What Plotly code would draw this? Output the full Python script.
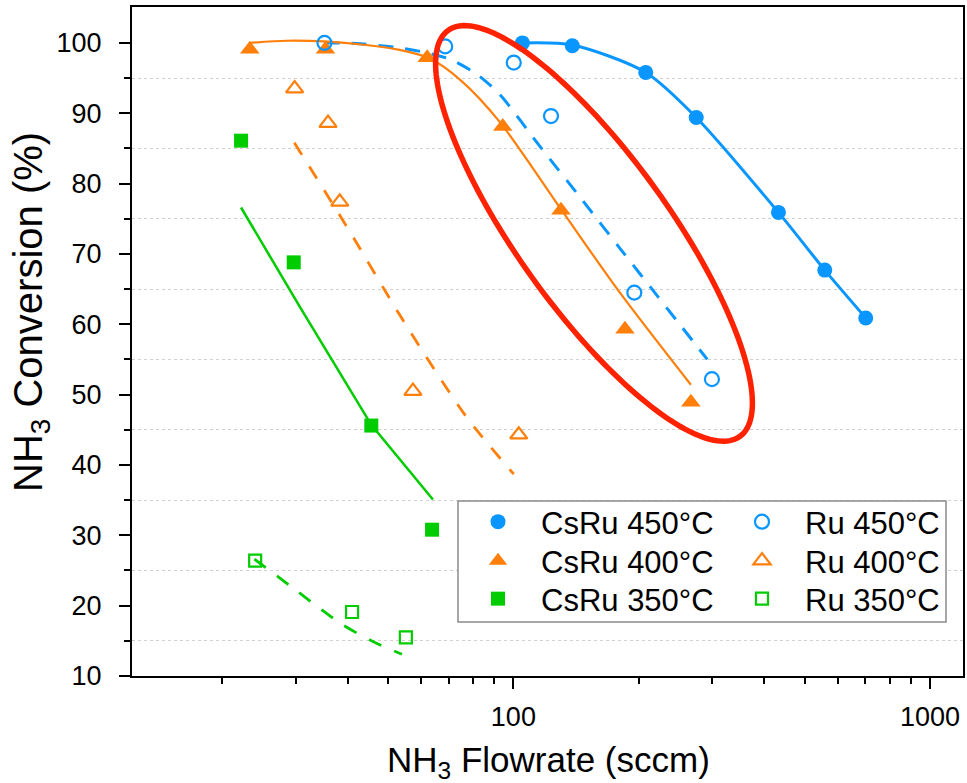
import numpy as np
import plotly.graph_objects as go

# ---------------- data ----------------
csru450_x = [105.1, 138.5, 207.8, 274.7, 432.7, 559.0, 701.0]
csru450_y = [100.0, 99.6, 95.8, 89.4, 75.9, 67.7, 60.9]
ru450_x = [35.2, 68.6, 100.2, 123.1, 195.1, 299.6]
ru450_y = [100.0, 99.5, 97.2, 89.6, 64.5, 52.2]
csru400_x = [23.3, 35.4, 62.1, 94.3, 130.1, 185.3, 266.7]
csru400_y = [99.1, 99.1, 97.9, 88.1, 76.2, 59.3, 48.9]
ru400_x = [29.85, 35.9, 38.3, 57.4, 103.0]
ru400_y = [93.5, 88.6, 77.4, 50.5, 44.3]
csru350_x = [22.2, 29.7, 45.6, 63.8]
csru350_y = [86.1, 68.8, 45.6, 30.8]
ru350_x = [24.0, 41.0, 55.2]
ru350_y = [26.4, 19.1, 15.5]

# fitted guide curves
fit_csru450_x = [105.1, 138.5, 207.8, 274.7, 432.7, 559.0, 701.0]
fit_csru450_y = [100.0, 99.7, 95.8, 89.4, 75.9, 67.7, 60.9]
fit_ru450_x = [35.2, 42.0, 53.3, 62.9, 70.9, 81.4, 92.6, 115.4, 146.6, 179.6, 221.8, 292.0]
fit_ru450_y = [100.0, 99.9, 99.3, 98.5, 97.6, 95.6, 92.7, 85.4, 77.6, 70.9, 64.0, 55.0]
fit_csru400_x = [23.3, 28.5, 35.2, 44.3, 53.3, 62.9, 75.0, 92.6, 131.3, 179.6, 266.7]
fit_csru400_y = [100.0, 100.3, 100.2, 99.7, 99.0, 97.8, 94.6, 88.8, 76.0, 64.6, 51.4]
fit_ru400_x = [29.8, 39.8, 54.3, 77.0, 100.2]
fit_ru400_y = [85.8, 73.9, 60.6, 46.9, 38.7]
fit_csru350_x = [22.2, 30.7, 45.6, 64.1]
fit_csru350_y = [76.6, 62.5, 45.7, 35.1]
fit_ru350_x = [23.9, 29.3, 33.9, 39.0, 46.0, 54.0]
fit_ru350_y = [26.6, 22.7, 19.85, 17.25, 14.9, 13.1]

x_tick_vals = [100, 1000]
x_tick_text = ["100", "1000"]
x_minor_vals = [20, 30, 40, 50, 60, 70, 80, 90, 200, 300, 400, 500, 600, 700, 800, 900]
y_tick_vals = [10, 20, 30, 40, 50, 60, 70, 80, 90, 100]
y_minor_vals = [15, 25, 35, 45, 55, 65, 75, 85, 95]

# ---------------- styling ----------------
BLUE = "#0A96FF"
ORANGE = "#FF7F0A"
GREEN = "#00CC00"
FONT = "Arial, Liberation Sans, sans-serif"

W, H = 967, 783
ML, MR, MT, MB = 132, 4, 7, 107
PW, PH = W - ML - MR, H - MT - MB


def xp(px):
    return (px - ML) / PW


def yp(py):
    return (H - MB - py) / PH


fig = go.Figure()


def fit_line(x, y, color, dash, width, spline=True):
    fig.add_trace(go.Scatter(
        x=x, y=y, mode="lines", showlegend=False, hoverinfo="skip",
        line=dict(color=color, width=width, dash=dash,
                  shape="spline" if spline else "linear", smoothing=0.8)))


fit_line(fit_csru450_x, fit_csru450_y, BLUE, "solid", 3)
fit_line(fit_ru450_x, fit_ru450_y, BLUE, "15px,12px", 3)
fit_line(fit_csru400_x, fit_csru400_y, ORANGE, "solid", 2.2)
fit_line(fit_ru400_x, fit_ru400_y, ORANGE, "14px,14px", 2.8)
fit_line(fit_csru350_x, fit_csru350_y, GREEN, "solid", 2.5, spline=False)
fit_line(fit_ru350_x, fit_ru350_y, GREEN, "14px,14px", 2.8)


def pts(x, y, name, symbol, color, size, legend, open_=False):
    if open_:
        marker = dict(symbol=symbol + "-open", size=size, color=color,
                      line=dict(color=color, width=2.2))
    else:
        marker = dict(symbol=symbol, size=size, color=color, line=dict(width=0))
    fig.add_trace(go.Scatter(x=x, y=y, mode="markers", name=name,
                             marker=marker, legend=legend))


pts(csru450_x, csru450_y, "CsRu 450°C", "circle", BLUE, 15, "legend")
pts(csru400_x, csru400_y, "CsRu 400°C", "triangle-up", ORANGE, 17, "legend2")
pts(csru350_x, csru350_y, "CsRu 350°C", "square", GREEN, 14, "legend3")
pts(ru450_x, ru450_y, "Ru 450°C", "circle", BLUE, 14, "legend4", True)
pts(ru400_x, ru400_y, "Ru 400°C", "triangle-up", ORANGE, 15, "legend5", True)
pts(ru350_x, ru350_y, "Ru 350°C", "square", GREEN, 12, "legend6", True)

# highlight ellipse (pixel geometry -> paper coords)
ell_cx, ell_cy = 594.0, 233.4     # pixel centre
ell_a, ell_b = 250.0, 76.0        # semi axes (px)
ell_ang = np.deg2rad(54.3)        # rotation (screen, clockwise)
t = np.linspace(0, 2 * np.pi, 181)
ex = ell_cx + ell_a * np.cos(t) * np.cos(ell_ang) - ell_b * np.sin(t) * np.sin(ell_ang)
ey = ell_cy + ell_a * np.cos(t) * np.sin(ell_ang) + ell_b * np.sin(t) * np.cos(ell_ang)
path = "M " + " L ".join(f"{xp(a):.5f},{yp(b):.5f}" for a, b in zip(ex, ey)) + " Z"
fig.add_shape(type="path", path=path, xref="paper", yref="paper",
              line=dict(color="#FF2200", width=5.5), layer="above")

# legend frame
fig.add_shape(type="rect", xref="paper", yref="paper",
              x0=xp(458), x1=xp(946), y0=yp(622), y1=yp(501),
              fillcolor="white", line=dict(color="#8a8a8a", width=1.5), layer="above")


def leg(px, py):
    return dict(orientation="v", xanchor="left", yanchor="middle",
                x=xp(px), y=yp(py),
                font=dict(size=31, family=FONT, color="black"),
                bgcolor="rgba(0,0,0,0)", borderwidth=0, itemwidth=76)


row_y = [522, 561, 599]
col_x = [455, 719]

fig.update_layout(
    width=W, height=H,
    margin=dict(l=ML, r=MR, t=MT, b=MB, autoexpand=False),
    paper_bgcolor="white", plot_bgcolor="white",
    font=dict(family=FONT, color="black", size=27),
    showlegend=True,
    legend=leg(col_x[0], row_y[0]),
    legend2=leg(col_x[0], row_y[1]),
    legend3=leg(col_x[0], row_y[2]),
    legend4=leg(col_x[1], row_y[0]),
    legend5=leg(col_x[1], row_y[1]),
    legend6=leg(col_x[1], row_y[2]),
    annotations=[
        dict(text="NH<sub>3</sub> Flowrate (sccm)", xref="paper", yref="paper",
             x=xp(548), y=yp(762), xanchor="center", yanchor="middle",
             showarrow=False, font=dict(size=35, family=FONT, color="black")),
        dict(text="NH<sub>3</sub> Conversion (%)", xref="paper", yref="paper",
             x=xp(31), y=yp(312), xanchor="center", yanchor="middle",
             textangle=-90, showarrow=False, font=dict(size=40, family=FONT, color="black")),
    ],
)

fig.update_xaxes(
    type="log", range=[np.log10(12.15), np.log10(1200)],
    tickmode="array", tickvals=x_tick_vals, ticktext=x_tick_text,
    ticks="outside", ticklen=11, tickwidth=2, tickcolor="black",
    ticklabelstandoff=5,
    minor=dict(tickmode="array", tickvals=x_minor_vals, ticks="outside",
               ticklen=6, tickwidth=2, tickcolor="black", showgrid=False),
    showline=True, linewidth=2, linecolor="black", mirror=True,
    showgrid=False, zeroline=False, automargin=False,
    tickfont=dict(size=27, family=FONT, color="black"),
)
fig.update_yaxes(
    range=[10, 105.1],
    tickmode="array", tickvals=y_tick_vals,
    ticks="outside", ticklen=11, tickwidth=2, tickcolor="black",
    ticklabelstandoff=12,
    minor=dict(tickmode="array", tickvals=y_minor_vals, ticks="outside",
               ticklen=6, tickwidth=2, tickcolor="black", showgrid=True,
               gridcolor="#d0d0d0", griddash="dot", gridwidth=1),
    showline=True, linewidth=2, linecolor="black", mirror=True,
    showgrid=False, zeroline=False, automargin=False,
    tickfont=dict(size=27, family=FONT, color="black"),
)

fig.write_html("out.html", config={"displayModeBar": False},
               post_script="document.body.style.margin='0px';")
